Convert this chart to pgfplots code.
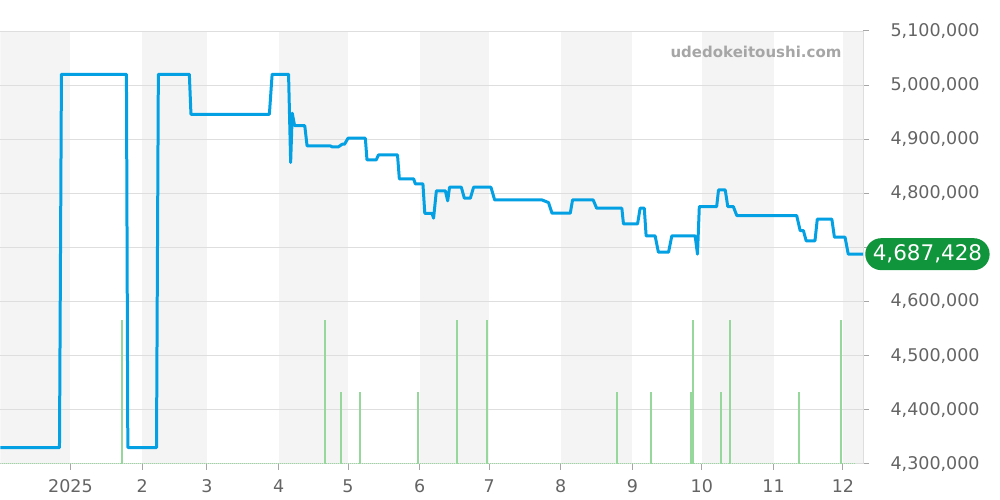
\documentclass[border=0pt]{standalone}
\usepackage{fontspec}
\setmainfont{DejaVu Sans}
\usepackage{pgfplots}
\pgfplotsset{compat=1.18}
\definecolor{linec}{RGB}{3,160,228}
\definecolor{volc}{RGB}{150,215,155}
\definecolor{shade}{RGB}{244,244,244}
\definecolor{gridc}{RGB}{222,222,222}
\definecolor{tickc}{RGB}{100,100,100}
\definecolor{badge}{RGB}{16,148,60}
\begin{document}
\begin{tikzpicture}
\begin{axis}[
  set layers,
  scale only axis, width=863pt, height=433pt,
  at={(0pt,0pt)}, anchor=south west,
  xmin=-30.25, xmax=342.7, ymin=4300000, ymax=5100000,
  axis x line*=bottom, axis y line*=right,
  axis line style={draw=gridc, line width=1pt},
  clip mode=individual,
  xtick={0,31,59,90,120,151,181,212,243,273,304,334},
  xticklabels={2025,2,3,4,5,6,7,8,9,10,11,12},
  ytick={4300000,4400000,4500000,4600000,4700000,4800000,4900000,5000000,5100000},
  yticklabels={{4,300,000},{4,400,000},{4,500,000},{4,600,000},{},{4,800,000},{4,900,000},{5,000,000},{5,100,000}},
  scaled y ticks=false,
  tick align=outside, major tick length=6pt,
  tick style={color=gray!70, line width=1pt},
  ymajorgrids, grid style={gridc, line width=0.8pt},
  ticklabel style={font=\fontsize{17.5}{20}\selectfont, text=tickc},
  yticklabel style={xshift=18pt},
  xticklabel style={yshift=-6pt},
]
% month bands
\addplot[on layer=axis background, fill=shade, draw=none, forget plot] coordinates {(-30.25,4300000)(-30.25,5100000)(0,5100000)(0,4300000)};
\addplot[on layer=axis background, fill=shade, draw=none, forget plot] coordinates {(31,4300000)(31,5100000)(59,5100000)(59,4300000)};
\addplot[on layer=axis background, fill=shade, draw=none, forget plot] coordinates {(90,4300000)(90,5100000)(120,5100000)(120,4300000)};
\addplot[on layer=axis background, fill=shade, draw=none, forget plot] coordinates {(151,4300000)(151,5100000)(181,5100000)(181,4300000)};
\addplot[on layer=axis background, fill=shade, draw=none, forget plot] coordinates {(212,4300000)(212,5100000)(243,5100000)(243,4300000)};
\addplot[on layer=axis background, fill=shade, draw=none, forget plot] coordinates {(273,4300000)(273,5100000)(304,5100000)(304,4300000)};
\addplot[on layer=axis background, fill=shade, draw=none, forget plot] coordinates {(334,4300000)(334,5100000)(342.7,5100000)(342.7,4300000)};
% volume
\addplot[densely dotted, volc, line width=1pt] coordinates {(-30.25,4300500)(339.5,4300500)};
\addplot[ycomb, volc, line width=2pt, mark=none] coordinates {
(22.2,4566000)(110.2,4566000)(117.1,4433000)(125.2,4433000)(150.3,4433000)
(167.1,4566000)(180.2,4566000)(236.3,4433000)(251.2,4433000)(268.2,4433000)
(269.1,4566000)(281.2,4433000)(285.2,4566000)(315.2,4433000)(333.2,4566000)};
% price
\addplot[linec, line width=3pt, line join=round, mark=none] coordinates {
(-30.25,4330000)(-4.75,4330000)(-3.9,5020000)(24.2,5020000)(24.8,4330000)
(37.2,4330000)(38.0,5020000)(51.4,5020000)(52.1,4946000)(86.0,4946000)
(87.2,5020000)(94.3,5020000)(95.2,4857000)(95.9,4948000)(96.9,4925000)
(101.3,4925000)(102.3,4887500)(112.4,4887500)(113.2,4885700)(115.8,4885700)
(117.5,4890700)(118.5,4890700)(120.0,4901800)(127.5,4901800)(128.2,4861700)
(132.2,4861700)(133.2,4871000)(141.4,4871000)(142.2,4826600)(148.4,4826600)
(149.1,4817300)(152.4,4817300)(153.2,4762800)(156.3,4762800)(157.0,4754000)
(158.2,4804400)(162.1,4804400)(163.1,4786000)(163.9,4811200)(169.0,4811200)
(170.3,4790900)(172.9,4790900)(174.3,4811200)(181.8,4811200)(183.4,4787800)
(203.8,4787800)(206.7,4782800)(208.2,4763200)(216.1,4763200)(217.1,4787800)
(226.0,4787800)(227.5,4772400)(238.4,4772400)(239.1,4743400)(245.2,4743400)
(246.3,4772400)(248.1,4772400)(248.9,4721200)(252.8,4721200)(254.2,4691100)
(258.6,4691100)(260.0,4721200)(270.1,4721200)(271.1,4687400)(271.9,4775400)
(279.4,4775400)(280.2,4806200)(283.1,4806200)(284.2,4775400)(286.6,4775400)
(288.1,4758800)(314.0,4758800)(315.5,4731000)(316.9,4731000)(318.1,4712000)
(321.9,4712000)(322.9,4752100)(329.2,4752100)(330.3,4718800)(334.9,4718800)
(336.3,4687428)(342.7,4687428)};
\node[anchor=east, font=\bfseries\fontsize{15}{18}\selectfont, text=gray!70] at (rel axis cs:0.979,0.9515) {udedokeitoushi.com};
\node[anchor=west, xshift=2pt, fill=badge, text=white, rounded corners=16pt, minimum height=32pt, inner xsep=7.5pt, inner ysep=3pt, font=\fontsize{21.5}{24}\selectfont] at (axis cs:342.7,4687428) {4,687,428};
\end{axis}
\path (0pt,-36pt) rectangle (1000pt,464pt);
\end{tikzpicture}
\end{document}
